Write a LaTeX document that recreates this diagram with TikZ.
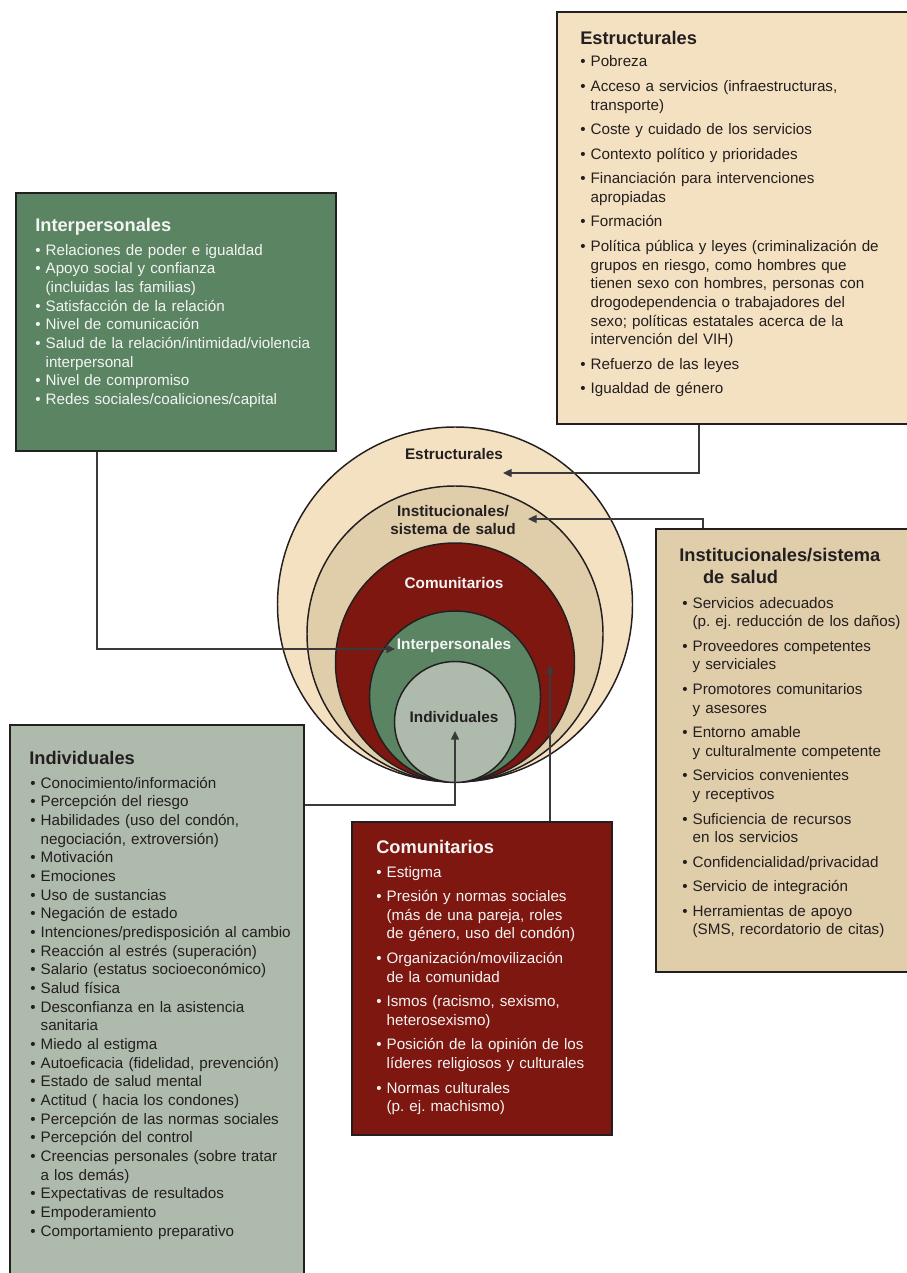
\documentclass[tikz,border=0pt]{standalone}
\usepackage{fontspec}
\setmainfont{Liberation Sans}
\usetikzlibrary{arrows.meta,fit}

\definecolor{edge}{HTML}{231F20}
\definecolor{wire}{HTML}{3A3A3A}
\definecolor{estrFill}{HTML}{F4E1C1}
\definecolor{instFill}{HTML}{E0CDAA}
\definecolor{comuFill}{HTML}{7D1710}
\definecolor{interFill}{HTML}{5B8463}
\definecolor{indivFill}{HTML}{AEBAAC}
\definecolor{lighttext}{HTML}{F4F4F4}
\definecolor{darktext}{HTML}{231F20}

% bullet and hanging indent for continuation lines
\newcommand{\itm}{•\ }
\newcommand{\cnt}{\phantom{•\ }}
\frenchspacing

\begin{document}
\begin{tikzpicture}[x=0.75pt,y=-0.75pt,
  box/.style={draw=edge, line width=1.1pt, inner sep=0pt},
  ring/.style={circle, draw=edge, line width=1.1pt, inner sep=0pt},
  ttl/.style={anchor=base west, inner sep=0pt, align=left, text width=180pt,
    font=\fontsize{13.7}{16.5}\selectfont\bfseries},
  lst/.style={anchor=base west, inner sep=0pt, align=left, text width=#1,
    font=\fontsize{11.4}{14}\selectfont},
  ringlabel/.style={anchor=base, inner sep=0pt, align=center, text width=150pt,
    font=\fontsize{11.5}{14}\selectfont\bfseries},
  conn/.style={draw=wire, line width=1pt, -{Triangle[length=6.5pt,width=6pt]}},
  wire/.style={draw=wire, line width=1pt}
]
\useasboundingbox (0,0) rectangle (906,1273);
\fill[white] (0,0) rectangle (906,1273);

% ---------- nested rings ----------
\node[ring, fill=estrFill,  minimum size=266.25pt] (ringEstr)  at (455,604.5) {};
\node[ring, fill=instFill,  minimum size=222pt]    (ringInst)  at (455,634) {};
\node[ring, fill=comuFill,  minimum size=179.25pt] (ringComu)  at (455,662.5) {};
\node[ring, fill=interFill, minimum size=128.25pt] (ringInter) at (455,696.5) {};
\node[ring, fill=indivFill, minimum size=90.75pt]  (ringIndiv) at (455,722) {};

\node[ringlabel, text=darktext]  (lblEstr)  at (454,459.5) {Estructurales};
\node[ringlabel, text=darktext]  (lblInst)  at (453,516) {Institucionales/\\sistema de salud};
\node[ringlabel, text=lighttext] (lblComu)  at (454,588) {Comunitarios};
\node[ringlabel, text=lighttext] (lblInter) at (454,649.5) {Interpersonales};
\node[ringlabel, text=darktext]  (lblIndiv) at (454,722) {Individuales};

% ---------- Estructurales box ----------
\node[box, fill=estrFill, fit={(557,12) (910,424)}] (estrBox) {};
\node[ttl, text=darktext] (estrTitle) at (580,44.5) {Estructurales};
\node[lst=250pt, text=darktext] (estrList) at (580,67) {%
\itm Pobreza\\[4.4pt]
\itm Acceso a servicios (infraestructuras,\\
\cnt transporte)\\[4.4pt]
\itm Coste y cuidado de los servicios\\[4.4pt]
\itm Contexto político y prioridades\\[4.4pt]
\itm Financiación para intervenciones\\
\cnt apropiadas\\[4.4pt]
\itm Formación\\[4.4pt]
\itm Política pública y leyes (criminalización de\\
\cnt grupos en riesgo, como hombres que\\
\cnt tienen sexo con hombres, personas con\\
\cnt drogodependencia o trabajadores del\\
\cnt sexo; políticas estatales acerca de la\\
\cnt intervención del VIH)\\[4.4pt]
\itm Refuerzo de las leyes\\[4.4pt]
\itm Igualdad de género};

% ---------- Interpersonales box ----------
\node[box, fill=interFill, fit={(16,193) (336,451)}] (interBox) {};
\node[ttl, text=lighttext] (interTitle) at (35,231.5) {Interpersonales};
\node[lst=230pt, text=lighttext] (interList) at (35,255) {%
\itm Relaciones de poder e igualdad\\
\itm Apoyo social y confianza\\
\cnt (incluidas las familias)\\
\itm Satisfacción de la relación\\
\itm Nivel de comunicación\\
\itm Salud de la relación/intimidad/violencia\\
\cnt interpersonal\\
\itm Nivel de compromiso\\
\itm Redes sociales/coaliciones/capital};

% ---------- Institucionales box ----------
\node[box, fill=instFill, fit={(656,529) (910,972)}] (instBox) {};
\node[ttl, text=darktext] (instTitle) at (679,561.5) {Institucionales/sistema\\\hspace*{1.3em}de salud};
\node[lst=180pt, text=darktext] (instList) at (682,608) {%
\itm Servicios adecuados\\
\cnt (p. ej. reducción de los daños)\\[4.4pt]
\itm Proveedores competentes\\
\cnt y serviciales\\[4.4pt]
\itm Promotores comunitarios\\
\cnt y asesores\\[4.4pt]
\itm Entorno amable\\
\cnt y culturalmente competente\\[4.4pt]
\itm Servicios convenientes\\
\cnt y receptivos\\[4.4pt]
\itm Suficiencia de recursos\\
\cnt en los servicios\\[4.4pt]
\itm Confidencialidad/privacidad\\[4.4pt]
\itm Servicio de integración\\[4.4pt]
\itm Herramientas de apoyo\\
\cnt (SMS, recordatorio de citas)};

% ---------- Comunitarios box ----------
\node[box, fill=comuFill, fit={(352,822) (612,1135)}] (comuBox) {};
\node[ttl, text=lighttext] (comuTitle) at (376,853.5) {Comunitarios};
\node[lst=185pt, text=lighttext] (comuList) at (376,877) {%
\itm Estigma\\[4.4pt]
\itm Presión y normas sociales\\
\cnt (más de una pareja, roles\\
\cnt de género, uso del condón)\\[4.4pt]
\itm Organización/movilización\\
\cnt de la comunidad\\[4.4pt]
\itm Ismos (racismo, sexismo,\\
\cnt heterosexismo)\\[4.4pt]
\itm Posición de la opinión de los\\
\cnt líderes religiosos y culturales\\[4.4pt]
\itm Normas culturales\\
\cnt (p. ej. machismo)};

% ---------- Individuales box ----------
\node[box, fill=indivFill, fit={(10,725) (304,1280)}] (indivBox) {};
\node[ttl, text=darktext] (indivTitle) at (29,764.5) {Individuales};
\node[lst=210pt, text=darktext] (indivList) at (30,788) {%
\itm Conocimiento/información\\
\itm Percepción del riesgo\\
\itm Habilidades (uso del condón,\\
\cnt negociación, extroversión)\\
\itm Motivación\\
\itm Emociones\\
\itm Uso de sustancias\\
\itm Negación de estado\\
\itm Intenciones/predisposición al cambio\\
\itm Reacción al estrés (superación)\\
\itm Salario (estatus socioeconómico)\\
\itm Salud física\\
\itm Desconfianza en la asistencia\\
\cnt sanitaria\\
\itm Miedo al estigma\\
\itm Autoeficacia (fidelidad, prevención)\\
\itm Estado de salud mental\\
\itm Actitud ( hacia los condones)\\
\itm Percepción de las normas sociales\\
\itm Percepción del control\\
\itm Creencias personales (sobre tratar\\
\cnt a los demás)\\
\itm Expectativas de resultados\\
\itm Empoderamiento\\
\itm Comportamiento preparativo};

% ---------- connectors ----------
\coordinate (estrTip)  at (503,473);
\coordinate (instTip)  at (528,519);
\coordinate (interTip) at (395,649);
\coordinate (indivTip) at (455,731);
\coordinate (comuTip)  at (550,665);

\draw[conn] (estrBox.south -| 699,0) |- (estrTip);
\draw[conn] (instBox.north -| 703,0) |- (instTip);
\draw[conn] (interBox.south -| 97,0) |- (interTip);
\draw[conn] (indivBox.east |- 0,805) -| (indivTip);
\draw[conn] (comuBox.north -| comuTip) -- (comuTip);
\end{tikzpicture}
\end{document}
